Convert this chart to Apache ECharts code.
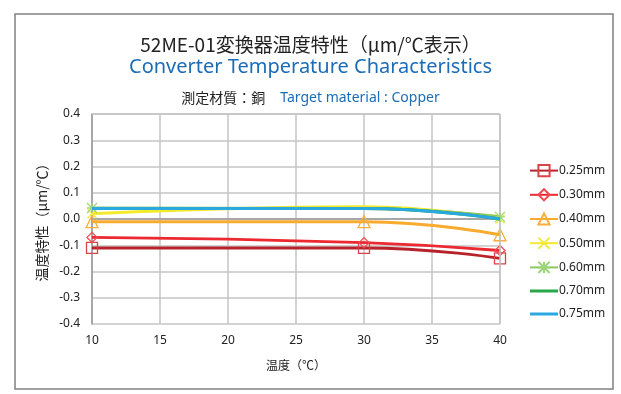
<!DOCTYPE html>
<html><head><meta charset="utf-8">
<script src="https://cdn.jsdelivr.net/npm/echarts@6/dist/echarts.min.js"></script>
<style>html,body{margin:0;padding:0;background:#fff}#c{width:621px;height:394px}</style>
</head><body><div id="c"></div>
<script>
const temps = [10, 30, 40];
const seriesNames = ['0.25mm','0.30mm','0.40mm','0.50mm','0.60mm','0.70mm','0.75mm'];
const v025 = [-0.11, -0.11, -0.15];
const v030 = [-0.07, -0.09, -0.12];
const v040 = [-0.01, -0.01, -0.06];
const v050 = [0.02, 0.047, 0.0];
const v060 = [0.042, 0.04, 0.008];
const v070 = [0.04, 0.04, 0.0];
const v075 = [0.04, 0.04, 0.0];
const yTicks = [-0.4,-0.3,-0.2,-0.1,0.0,0.1,0.2,0.3,0.4];
const xTicks = [10,15,20,25,30,35,40];

const values = [v025, v030, v040, v050, v060, v070, v075];
const colors = ['#b8222b','#ec2830','#f8ab2e','#f2ea2a','#8cc85c','#29a848','#2aa8e0'];
const markColors = ['#d9434a','#f04a50','#f8ad3c','#f2ea40','#9ed47a',null,null];
const symbols = ['rect','diamond','triangle','path://M0,0L10,10M10,0L0,10','path://M0,0L10,10M10,0L0,10M5,0L5,10M0,5L10,5','none','none'];
const sizes = [11,10,12,9,10,0,0];
// markers not visible at 30 °C for these series
const hideMid = [false,false,false,true,true,false,false];

const chart = echarts.init(document.getElementById('c'), null, {renderer:'canvas'});
const series = values.map((arr, i) => ({
  name: seriesNames[i],
  type: 'line',
  smooth: true,
  data: temps.map((t, k) => (hideMid[i] && k === 1) ? {value:[t, arr[k]], symbol:'none'} : [t, arr[k]]),
  symbol: symbols[i],
  symbolSize: sizes[i],
  showSymbol: symbols[i] !== 'none',
  lineStyle: {color: colors[i], width: 3},
  itemStyle: {color: 'rgba(255,255,255,0)', borderColor: markColors[i] || colors[i], borderWidth: 1.3},
  emphasis: {disabled: true},
  z: 2 + i
}));

const legendData = seriesNames.map((n, i) => symbols[i] === 'none'
  ? {name: n, icon: 'path://M0,0L28,0L28,3L0,3Z', itemStyle: {color: colors[i], borderWidth: 0}}
  : {name: n});

chart.setOption({
  animation: false,
  backgroundColor: '#fff',
  graphic: [{type:'rect', shape:{x:15, y:14, width:598, height:375}, style:{fill:'none', stroke:'#808080', lineWidth:1.5}, z:-1}],
  title: [
    {text: '52ME-01変換器温度特性（μm/℃表示）', left: 'center', top: 30, textStyle:{fontFamily:'Noto Sans CJK JP', fontSize:19, fontWeight:'normal', color:'#222'}},
    {text: 'Converter Temperature Characteristics', left: 'center', top: 52, textStyle:{fontFamily:'Noto Sans', fontSize:20, fontWeight:'normal', color:'#1b6cb7'}},
    {text: '{a|測定材質：銅}   {b|Target material : Copper}', left: 'center', top: 84, textStyle:{rich:{a:{fontFamily:'Noto Sans CJK JP', fontSize:14, fontWeight:'normal', color:'#222'}, b:{fontFamily:'Noto Sans', fontSize:14, fontWeight:'normal', color:'#1b6cb7'}}}}
  ],
  grid: {left: 92, right: 121, top: 114, bottom: 70},
  legend: {
    orient: 'vertical', left: 524, top: 159, itemGap: 11, itemWidth: 28, itemHeight: 14,
    data: legendData,
    textStyle: {fontFamily:'Noto Sans', fontSize:12, color:'#222', padding:[0,0,0,-4]}
  },
  xAxis: {
    type: 'value', min: 10, max: 40, interval: 5,
    name: '温度（℃）', nameLocation: 'middle', nameGap: 35,
    nameTextStyle: {fontFamily:'Noto Sans CJK JP', fontSize:12, color:'#222'},
    axisLine: {show: true, lineStyle: {color:'#999', width:1.5}},
    axisTick: {show: false},
    axisLabel: {fontFamily:'Noto Sans', fontSize:12, color:'#222', margin: 11, formatter: v => xTicks.includes(v) ? String(v) : ''},
    splitLine: {show: true, lineStyle: {color:'#c4c4c4', width:1.5}}
  },
  yAxis: {
    type: 'value', min: -0.4, max: 0.4, interval: 0.1,
    name: '温度特性（μm/℃）', nameLocation: 'middle', nameGap: 38, nameRotate: 90,
    nameTextStyle: {fontFamily:'Noto Sans CJK JP', fontSize:14, color:'#222'},
    axisLine: {show: true, lineStyle: {color:'#999', width:1.5}},
    axisTick: {show: false},
    axisLabel: {fontFamily:'Noto Sans', fontSize:12, color:'#222', margin: 12,
      formatter: v => { const t = yTicks.find(y => Math.abs(y - v) < 1e-9); return t === undefined ? '' : t.toFixed(1); }},
    splitLine: {show: true, lineStyle: {color:'#c4c4c4', width:1.5}}
  },
  series: series.concat([{
    type:'line', data:[], silent:true,
    markLine:{silent:true, symbol:'none', label:{show:false}, lineStyle:{color:'#c4c4c4', width:1.5, type:'solid'},
      data:[{xAxis:40},{yAxis:0.4}]}
  }])
});
</script></body></html>
